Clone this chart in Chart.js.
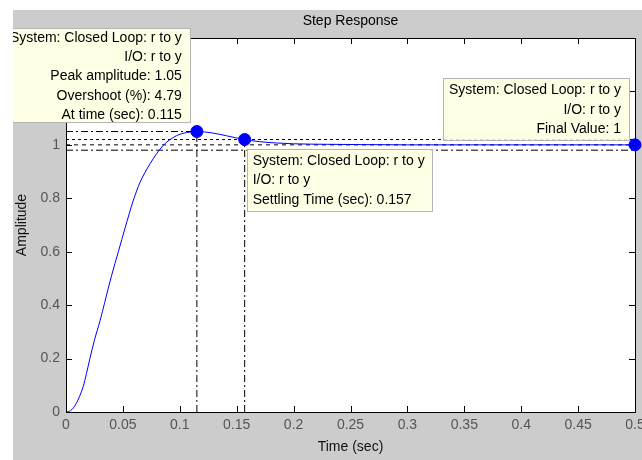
<!DOCTYPE html>
<html lang="en">
<head>
  <meta charset="UTF-8" />
  <title>Step Response</title>
  <script src="https://cdn.jsdelivr.net/npm/chart.js"></script>
  <style>
    html, body { margin: 0; padding: 0; background: #fff; }
    #wrap { width: 642px; height: 460px; }
  </style>
</head>
<body>
<div id="wrap"><canvas id="chart" width="642" height="460"></canvas></div>
<script>
// step response
const timeSec = [0, 0.004, 0.009, 0.015, 0.018, 0.021, 0.025, 0.030, 0.034, 0.040, 0.046, 0.052, 0.059, 0.065, 0.074, 0.085, 0.097, 0.106, 0.115, 0.128, 0.141, 0.157, 0.170, 0.185, 0.200, 0.230, 0.260, 0.300, 0.350, 0.400, 0.450, 0.500];
const amplitude = [0, 0.005, 0.032, 0.094, 0.144, 0.200, 0.269, 0.343, 0.41, 0.51, 0.60, 0.69, 0.79, 0.859, 0.93, 0.996, 1.034, 1.046, 1.05, 1.045, 1.034, 1.02, 1.012, 1.007, 1.004, 1.002, 1.001, 1.0, 1.0, 1.0, 1.0, 1.0];

// characteristics shown by the data tips
const peakTime = 0.115, peakAmp = 1.05, overshoot = 4.79;
const settleTime = 0.157, settleAmp = 1.02;
const finalTime = 0.5, finalValue = 1;
const settleBand = [1.02, 0.98];

const xTicks = [0, 0.05, 0.1, 0.15, 0.2, 0.25, 0.3, 0.35, 0.4, 0.45, 0.5];
const yTicks = [0, 0.2, 0.4, 0.6, 0.8, 1, 1.2, 1.4];

const boxFont = '14px "Liberation Sans", Arial, sans-serif';
const figGray = '#cccccc';
const dashDot = [7, 3, 2, 3];

const tipBoxes = [
  { at: [peakTime, peakAmp], dx: -7, dy: -9, w: 200, h: 94, anchor: 'rightBottom', align: 'right',
    lines: ['System: Closed Loop: r to y', 'I/O: r to y', 'Peak amplitude: ' + peakAmp, 'Overshoot (%): ' + overshoot, 'At time (sec): ' + peakTime] },
  { at: [settleTime, settleAmp], dx: 2, dy: 9, w: 185, h: 62, anchor: 'leftTop', align: 'left',
    lines: ['System: Closed Loop: r to y', 'I/O: r to y', 'Settling Time (sec): ' + settleTime] },
  { at: [finalTime, finalValue], dx: -6, dy: -5, w: 186, h: 62, anchor: 'rightBottom', align: 'right',
    lines: ['System: Closed Loop: r to y', 'I/O: r to y', 'Final Value: ' + finalValue] }
];

function pts(xs, ys) { return xs.map((x, i) => ({ x: x, y: ys[i] })); }
function refLine(xs, ys, dash) {
  return { data: pts(xs, ys), showLine: true, borderColor: '#000', borderWidth: 1, borderDash: dash, pointRadius: 0, fill: false };
}

const figPlugin = {
  id: 'fig',
  beforeDraw(chart) {
    const c = chart.ctx, a = chart.chartArea;
    c.save();
    c.fillStyle = '#fff';
    c.fillRect(0, 0, chart.width, chart.height);
    c.fillStyle = figGray;
    c.fillRect(13, 10, chart.width - 13, chart.height - 10);
    c.fillStyle = '#fff';
    c.fillRect(a.left, a.top, a.right - a.left, a.bottom - a.top);
    c.fillStyle = '#000';
    c.font = boxFont;
    c.textAlign = 'center';
    c.textBaseline = 'middle';
    c.fillText('Step Response', (a.left + a.right) / 2, 21);
    c.restore();
  },
  afterDraw(chart) {
    const c = chart.ctx, a = chart.chartArea, xs = chart.scales.x, ys = chart.scales.y;
    const tl = 6;
    c.save();
    c.strokeStyle = '#000';
    c.lineWidth = 1;
    c.beginPath();
    xTicks.forEach(v => {
      const p = Math.round(xs.getPixelForValue(v)) + 0.5;
      c.moveTo(p, a.bottom); c.lineTo(p, a.bottom - tl);
      c.moveTo(p, a.top); c.lineTo(p, a.top + tl);
    });
    yTicks.forEach(v => {
      const p = Math.round(ys.getPixelForValue(v)) + 0.5;
      c.moveTo(a.left, p); c.lineTo(a.left + tl, p);
      c.moveTo(a.right, p); c.lineTo(a.right - tl, p);
    });
    c.stroke();
    c.strokeRect(Math.round(a.left) + 0.5, Math.round(a.top) + 0.5, Math.round(a.right - a.left), Math.round(a.bottom - a.top));

    // data tip boxes
    c.beginPath();
    c.rect(13, 10, chart.width - 13, chart.height - 10);
    c.clip();
    c.font = boxFont;
    c.textBaseline = 'middle';
    tipBoxes.forEach(b => {
      const px = xs.getPixelForValue(b.at[0]) + b.dx;
      const py = ys.getPixelForValue(b.at[1]) + b.dy;
      const left = b.anchor === 'rightBottom' ? px - b.w : px;
      const top = b.anchor === 'rightBottom' ? py - b.h : py;
      c.fillStyle = '#ffffe6';
      c.fillRect(left, top, b.w, b.h);
      c.strokeStyle = '#b4b4b4';
      c.strokeRect(Math.round(left) + 0.5, Math.round(top) + 0.5, b.w, b.h);
      c.fillStyle = '#000';
      c.textAlign = b.align;
      const tx = b.align === 'right' ? left + b.w - 8 : left + 6;
      const mid = top + b.h / 2 + 1;
      b.lines.forEach((t, i) => c.fillText(t, tx, mid + (i - (b.lines.length - 1) / 2) * 19.25));
    });
    c.restore();
  }
};

new Chart(document.getElementById('chart'), {
  type: 'scatter',
  data: {
    datasets: [
      { data: pts([peakTime, settleTime, finalTime], [peakAmp, settleAmp, finalValue]), pointRadius: 6,
        pointBackgroundColor: '#0000ff', pointBorderColor: '#0000ff', showLine: false, clip: false },
      { data: pts(timeSec, amplitude), showLine: true, borderColor: '#0000ff', borderWidth: 1,
        pointRadius: 0, cubicInterpolationMode: 'monotone', fill: false },
      refLine([0, peakTime], [peakAmp, peakAmp], dashDot),
      refLine([peakTime, peakTime], [0, peakAmp], dashDot),
      refLine([settleTime, settleTime], [0, settleAmp], dashDot),
      refLine([0, finalTime], [settleBand[0], settleBand[0]], [3, 3]),
      refLine([0, finalTime], [settleBand[1], settleBand[1]], dashDot),
      refLine([0, finalTime], [finalValue, finalValue], [4, 4])
    ]
  },
  options: {
    responsive: false,
    animation: false,
    events: [],
    layout: { padding: { top: 38, right: 6, left: 0, bottom: 0 } },
    plugins: { legend: { display: false }, tooltip: { enabled: false }, title: { display: false } },
    scales: {
      x: {
        type: 'linear', min: 0, max: 0.5,
        afterBuildTicks: s => { s.ticks = xTicks.map(v => ({ value: v })); },
        afterFit: s => { s.height = 48; s.paddingLeft = 0; s.paddingRight = 0; },
        grid: { display: false, drawTicks: false },
        border: { display: false },
        ticks: { color: '#555', padding: 5, maxRotation: 0, autoSkip: false,
          font: { family: '"Liberation Sans", Arial, sans-serif', size: 14 },
          callback: v => String(Math.round(v * 100) / 100) },
        title: { display: true, text: 'Time (sec)', color: '#111', padding: { top: 0, bottom: 4 },
          font: { family: '"Liberation Sans", Arial, sans-serif', size: 14 } }
      },
      y: {
        type: 'linear', min: 0, max: 1.4,
        afterBuildTicks: s => { s.ticks = yTicks.map(v => ({ value: v })); },
        afterFit: s => { s.width = 66; s.paddingTop = 0; s.paddingBottom = 0; },
        grid: { display: false, drawTicks: false },
        border: { display: false },
        ticks: { color: '#555', padding: 6, autoSkip: false,
          font: { family: '"Liberation Sans", Arial, sans-serif', size: 14 },
          callback: v => String(Math.round(v * 10) / 10) },
        title: { display: true, text: 'Amplitude', color: '#111', padding: { top: 14, bottom: 0 },
          font: { family: '"Liberation Sans", Arial, sans-serif', size: 14 } }
      }
    }
  },
  plugins: [figPlugin]
});
</script>
</body>
</html>
